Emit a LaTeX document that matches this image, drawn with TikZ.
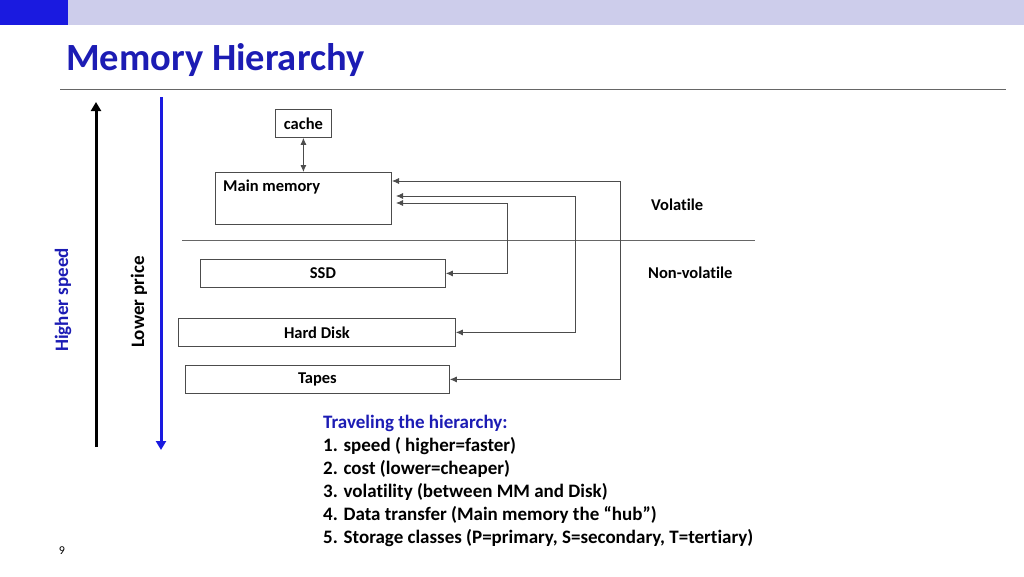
\documentclass[tikz,border=0pt]{standalone}
\usepackage{fontspec}
\setmainfont{Carlito}[Ligatures=NoCommon]
\usetikzlibrary{arrows.meta}
\definecolor{ttl}{HTML}{1C1CB4}
\definecolor{bar}{HTML}{CDCDEB}
\definecolor{barL}{HTML}{1A1AE0}
\begin{document}
\begin{tikzpicture}[x=1pt,y=-1pt,
  box/.style={draw=black!70,line width=0.8pt,inner sep=0,anchor=north west,font=\bfseries\fontsize{16.5}{18}\selectfont},
  con/.style={draw=black!70,line width=0.8pt,{Latex[length=7pt,width=6pt]}-{Latex[length=7pt,width=6pt]}},
  lbl/.style={font=\bfseries\fontsize{16.5}{18}\selectfont,anchor=west,inner sep=0}]
\useasboundingbox (0,0) rectangle (1024,576);
\fill[bar] (68,0) rectangle (1024,25);
\fill[barL] (0,0) rectangle (68,25);
\node[anchor=west,inner sep=0,text=ttl,font=\bfseries\fontsize{38.5}{40}\selectfont] (title) at (66,60) {Memory Hierarchy};
\draw[black!60,line width=0.8pt] (60,89) -- (1006,89);
\coordinate (ba) at (96,447); \coordinate (bb) at (96,102);
\draw[line width=3pt,-{Triangle[length=9pt,width=10pt]}] (ba) -- (bb);
\coordinate (ca) at (161,97); \coordinate (cb) at (161,450);
\draw[line width=3pt,draw=barL,-{Triangle[length=9pt,width=10pt]},barL] (ca) -- (cb);
\node[rotate=90,text=ttl,font=\bfseries\fontsize{19}{20}\selectfont] (hs) at (63,300) {Higher speed};
\node[rotate=90,font=\bfseries\fontsize{19}{20}\selectfont] (lp) at (139,302) {Lower price};
\node[box,minimum width=56pt,minimum height=28pt] (cache) at (275,109) {cache};
\node[box,minimum width=176pt,minimum height=52pt] (mm) at (215,172) {};
\node[lbl] (mmt) at (223,187) {Main memory};
\draw[con] (cache.south) -- (mm.north -| cache.south);
\draw[black!60,line width=0.8pt] (182,240) -- (755,240);
\node[box,minimum width=245pt,minimum height=28pt] (ssd) at (200,259) {SSD};
\node[box,minimum width=277pt,minimum height=28pt] (hd) at (178,318) {Hard Disk};
\node[box,minimum width=264pt,minimum height=28pt] (tp) at (185,365) {Tapes};
\coordinate (m1) at (396,203); \coordinate (m2) at (396,196); \coordinate (m3) at (392,181);
\draw[con] (m1) -- (507,203) |- (ssd.east);
\draw[con] (m2) -- (575,196) |- (hd.east);
\draw[con] (m3) -- (620,181) |- (tp.east);
\node[lbl] (vol) at (651,205) {Volatile};
\node[lbl] (nvol) at (648,273) {Non-volatile};
\node[anchor=north west,inner sep=0,align=left,font=\bfseries\fontsize{19}{23}\selectfont] (txt) at (323,415)
{\textcolor{ttl}{Traveling the hierarchy:}\\
1. speed ( higher=faster)\\
2. cost (lower=cheaper)\\
3. volatility (between MM and Disk)\\
4. Data transfer (Main memory the “hub”)\\
5. Storage classes (P=primary, S=secondary, T=tertiary)};
\node[font=\fontsize{12}{13}\selectfont] (pg) at (62,551) {9};
\end{tikzpicture}
\end{document}
